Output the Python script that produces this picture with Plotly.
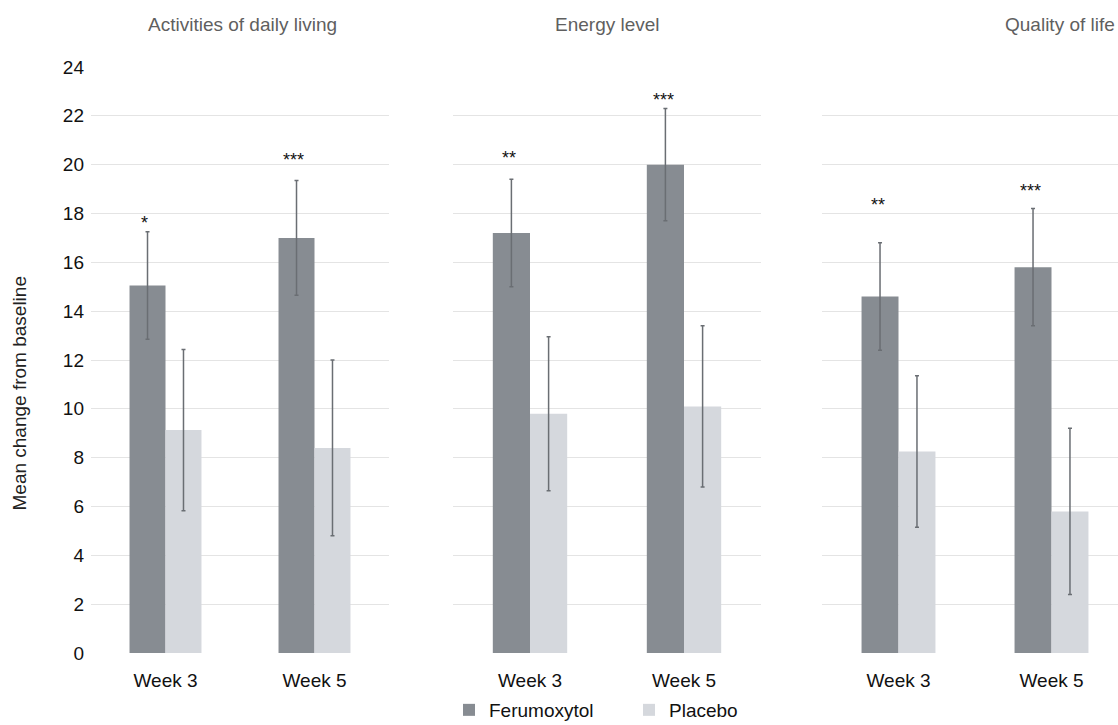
import plotly.graph_objects as go

panels = ["Activities of daily living", "Energy level", "Quality of life"]
weeks = ["Week 3", "Week 5"]
feru_vals = [[15.05, 17.0], [17.2, 20.0], [14.6, 15.8]]
feru_err = [[2.2, 2.35], [2.2, 2.3], [2.2, 2.4]]
plac_vals = [[9.13, 8.4], [9.8, 10.1], [8.25, 5.8]]
plac_err = [[3.3, 3.6], [3.15, 3.3], [3.1, 3.4]]
stars = [["*", "***"], ["**", "***"], ["**", "***"]]
star_y = [[17.6, 20.18], [20.26, 22.64], [18.34, 18.91]]
y_ticks = [0, 2, 4, 6, 8, 10, 12, 14, 16, 18, 20, 22, 24]

FERU = "#878c92"
PLAC = "#d5d8dd"
ERR = "#6a6e73"
FS = 19

W, H = 1118, 725
ML, MR, MT, MB = 91, 0, 67, 72
pw = W - ML - MR
ph = H - MT - MB
domains = [[0, 298 / pw], [362 / pw, 670 / pw], [731 / pw, 1.0]]
xranges = [[-0.5, 1.5], [-0.5, 1.5], [-0.5, -0.5 + 296 / 153]]
title_x_px = [242, 607, 1117]
title_anchor = ["center", "center", "right"]

fig = go.Figure()
for i in range(3):
    xa = "x" if i == 0 else f"x{i+1}"
    ya = "y" if i == 0 else f"y{i+1}"
    fig.add_trace(go.Bar(
        x=weeks, y=feru_vals[i], name="Ferumoxytol", marker_color=FERU,
        marker_line_width=0, showlegend=(i == 0), legendgroup="f",
        error_y=dict(type="data", array=feru_err[i], color=ERR, thickness=1.5, width=2),
        xaxis=xa, yaxis=ya))
    fig.add_trace(go.Bar(
        x=weeks, y=plac_vals[i], name="Placebo", marker_color=PLAC,
        marker_line_width=0, showlegend=(i == 0), legendgroup="p",
        error_y=dict(type="data", array=plac_err[i], color=ERR, thickness=1.5, width=2),
        xaxis=xa, yaxis=ya))
    for j in range(2):
        fig.add_annotation(x=j, y=star_y[i][j], text=stars[i][j], showarrow=False,
                           xref=xa, yref=ya, xshift=-21, font=dict(size=FS - 1, color="#111"))
    fig.add_annotation(x=(title_x_px[i] - ML) / pw, y=1, xref="paper", yref="paper",
                       xanchor=title_anchor[i], yanchor="middle", yshift=43,
                       text=panels[i], showarrow=False,
                       font=dict(size=FS, color="#5f5f5f"))

# y-axis title as annotation (placed slightly below plot centre, as in the reference)
fig.add_annotation(x=(19 - ML) / pw, y=(H - MB - 393.5) / ph, xref="paper", yref="paper",
                   text="Mean change from baseline", textangle=-90, showarrow=False,
                   xanchor="center", yanchor="middle", font=dict(size=FS, color="#222"))

layout = dict(
    width=W, height=H, barmode="group", bargap=0.517, bargroupgap=0,
    margin=dict(l=ML, r=MR, t=MT, b=MB, autoexpand=False),
    plot_bgcolor="white", paper_bgcolor="white",
    font=dict(family="Liberation Sans, Arial, sans-serif", size=FS, color="#111"),
    legend=dict(orientation="h", xref="container", yref="container",
                x=449 / W, xanchor="left", y=(H - 710) / H, yanchor="middle",
                font=dict(size=FS, color="#111"), itemwidth=30, traceorder="normal",
                entrywidth=135, bgcolor="rgba(0,0,0,0)"),
)
for i in range(3):
    xk = "xaxis" if i == 0 else f"xaxis{i+1}"
    yk = "yaxis" if i == 0 else f"yaxis{i+1}"
    layout[xk] = dict(domain=domains[i], range=xranges[i], showgrid=False, showline=False,
                      ticks="", tickfont=dict(size=FS, color="#111"), ticklabelstandoff=14,
                      anchor="y" if i == 0 else f"y{i+1}")
    ydict = dict(range=[0, 24], tickvals=y_ticks, showgrid=True, gridcolor="#e4e4e4",
                 gridwidth=1, zeroline=False, showline=False, ticks="",
                 anchor="x" if i == 0 else f"x{i+1}",
                 showticklabels=(i == 0), tickfont=dict(size=FS, color="#111"))
    if i == 0:
        ydict["ticklabelstandoff"] = 6
    layout[yk] = ydict
fig.update_layout(**layout)
fig.write_html("out.html", config={"displayModeBar": False},
               post_script="document.body.style.margin='0';document.body.style.overflow='hidden';")
